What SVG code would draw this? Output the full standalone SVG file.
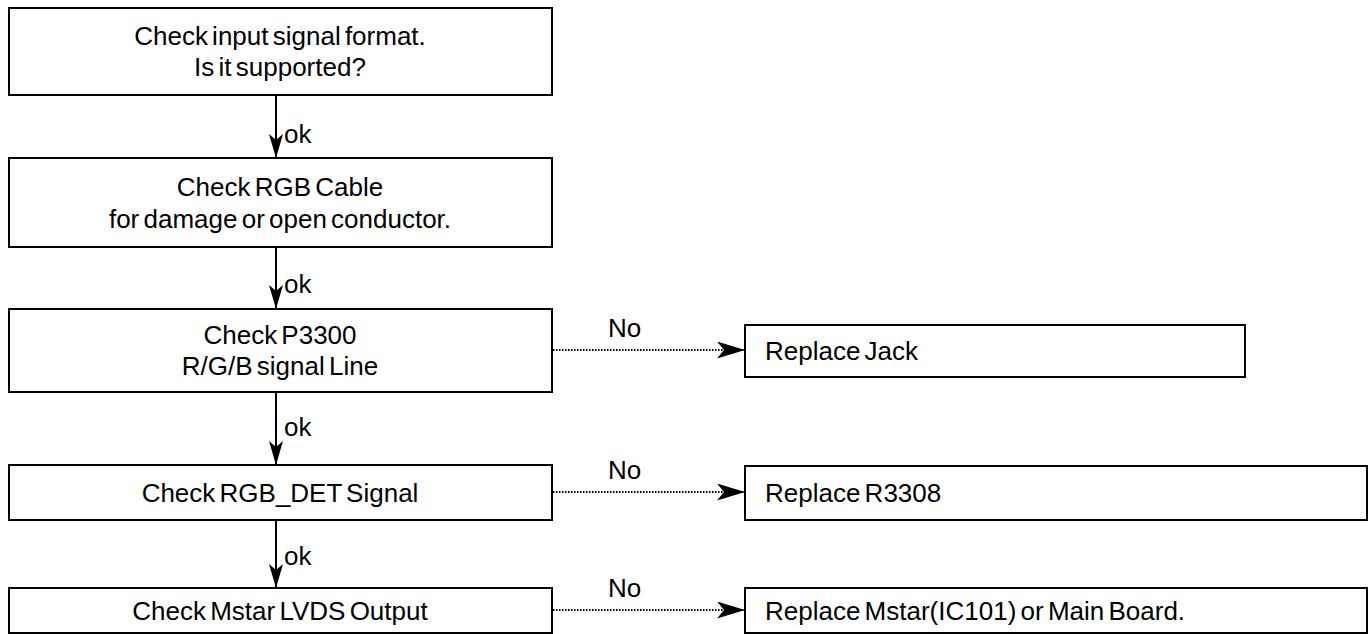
<svg xmlns="http://www.w3.org/2000/svg" width="1370" height="634" viewBox="0 0 1370 634">
<style>
.box{fill:#fff;stroke:#000;stroke-width:2}
.t{font-family:"Liberation Sans",Arial,sans-serif;font-size:26px;word-spacing:-3px;fill:#000}
.c{text-anchor:middle}
.v{stroke:#000;stroke-width:2;fill:none}
.d{stroke:#000;stroke-width:2;fill:none;stroke-dasharray:1.5 1.5}
</style>
<defs>
<marker id="av" markerUnits="userSpaceOnUse" viewBox="0 0 24 14" refX="24" refY="7" markerWidth="24" markerHeight="14" orient="auto">
<path d="M0,0 L24,7 L0,14 L6,7 Z" fill="#000"/>
</marker>
<marker id="ah" markerUnits="userSpaceOnUse" viewBox="0 0 28 17" refX="28" refY="8.5" markerWidth="28" markerHeight="17" orient="auto">
<path d="M0,0 L28,8.5 L0,17 L7,8.5 Z" fill="#000"/>
</marker>
</defs>
<rect width="1370" height="634" fill="#fff"/>
<g id="connectors">
<path class="v" d="M276,95 V158" marker-end="url(#av)"/>
<path class="v" d="M276,247 V309" marker-end="url(#av)"/>
<path class="v" d="M276,392 V465" marker-end="url(#av)"/>
<path class="v" d="M276,520 V588" marker-end="url(#av)"/>
<path class="d" d="M553,350 H745" marker-end="url(#ah)"/>
<path class="d" d="M553,492 H745" marker-end="url(#ah)"/>
<path class="d" d="M553,610 H745" marker-end="url(#ah)"/>
<text class="t" x="284" y="143">ok</text>
<text class="t" x="284" y="293">ok</text>
<text class="t" x="284" y="436">ok</text>
<text class="t" x="284" y="565">ok</text>
<text class="t" x="608" y="337">No</text>
<text class="t" x="608" y="479">No</text>
<text class="t" x="608" y="597">No</text>
</g>
<g id="n1">
<rect class="box" x="9" y="8" width="543" height="87"/>
<text class="t c" x="280" y="45">Check input signal format.</text>
<text class="t c" x="280" y="76">Is it supported?</text>
</g>
<g id="n2">
<rect class="box" x="9" y="158" width="543" height="89"/>
<text class="t c" x="280" y="196">Check RGB Cable</text>
<text class="t c" x="280" y="228">for damage or open conductor.</text>
</g>
<g id="n3">
<rect class="box" x="9" y="309" width="543" height="83"/>
<text class="t c" x="280" y="344">Check P3300</text>
<text class="t c" x="280" y="375">R/G/B signal Line</text>
</g>
<g id="n4">
<rect class="box" x="9" y="465" width="543" height="55"/>
<text class="t c" x="280" y="502">Check RGB_DET Signal</text>
</g>
<g id="n5">
<rect class="box" x="9" y="588" width="543" height="45"/>
<text class="t c" x="280" y="620">Check Mstar LVDS Output</text>
</g>
<g id="r1">
<rect class="box" x="745" y="325" width="500" height="52"/>
<text class="t" x="765" y="360">Replace Jack</text>
</g>
<g id="r2">
<rect class="box" x="745" y="466" width="622" height="54"/>
<text class="t" x="765" y="502">Replace R3308</text>
</g>
<g id="r3">
<rect class="box" x="745" y="588" width="622" height="45"/>
<text class="t" x="765" y="620">Replace Mstar(IC101) or Main Board.</text>
</g>
</svg>
